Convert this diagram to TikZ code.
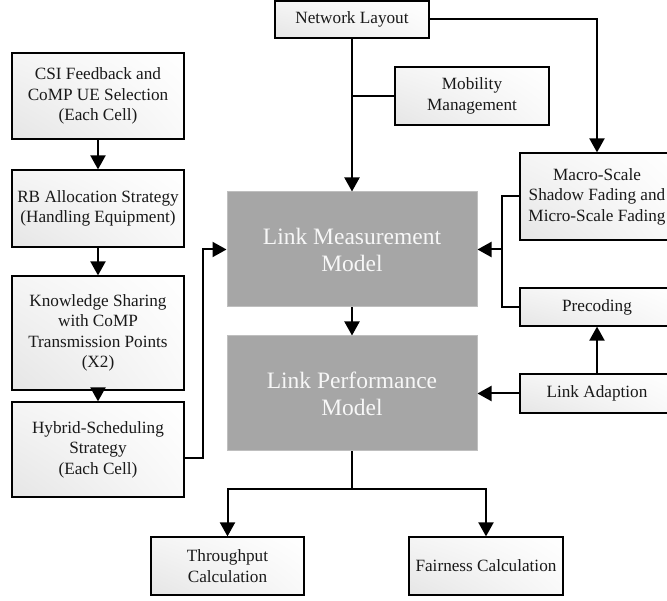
\documentclass[tikz,border=0pt]{standalone}
\usepackage{fontspec}
\setmainfont{Liberation Serif}
\usetikzlibrary{arrows.meta,calc,shadings}
\begin{document}
\begin{tikzpicture}[x=1pt,y=-1pt,
  box/.style={draw=black,line width=1.2pt,rectangle,inner sep=2pt,align=center,
    upper right=white,upper left=gray!8,lower left=gray!20,lower right=gray!5,
    text=black!90,font=\fontsize{17.2}{20.5}\selectfont},
  model/.style={draw=gray!50,line width=1pt,fill=gray!70,rectangle,align=center,
    text=gray!6,font=\fontsize{23.5}{27}\selectfont,
    minimum width=250pt,minimum height=115pt},
  conn/.style={line width=2pt},
  arr/.style={conn,-{Triangle[length=14pt,width=15pt]}}]
\useasboundingbox (0,0) rectangle (667,601);
\clip (0,0) rectangle (667,601);
\fill[white] (0,0) rectangle (667,601);
% nodes
\node[box,minimum width=154pt,minimum height=37pt] (net) at (352,19.5) {Network Layout};
\node[box,minimum width=172pt,minimum height=86pt] (csi) at (98,96) {CSI Feedback and\\CoMP UE Selection\\(Each Cell)};
\node[box,minimum width=172pt,minimum height=77pt] (rb) at (98,208.5) {RB Allocation Strategy\\(Handling Equipment)};
\node[box,minimum width=172pt,minimum height=114pt] (know) at (98,333) {Knowledge Sharing\\with CoMP\\Transmission Points\\(X2)};
\node[box,minimum width=172pt,minimum height=95pt] (hyb) at (98,449.5) {Hybrid-Scheduling\\Strategy\\(Each Cell)};
\node[model] (lm) at (352,249.5) {Link Measurement\\Model};
\node[model] (lp) at (352,393.5) {Link Performance\\Model};
\node[box,minimum width=154pt,minimum height=58pt] (mob) at (472,96) {Mobility\\Management};
\node[box,minimum width=154pt,minimum height=87pt] (macro) at (597,196.5) {Macro-Scale\\Shadow Fading and\\Micro-Scale Fading};
\node[box,minimum width=154pt,minimum height=38pt] (prec) at (597,307) {Precoding};
\node[box,minimum width=154pt,minimum height=39pt] (la) at (597,393.5) {Link Adaption};
\node[box,minimum width=153pt,minimum height=58pt] (thr) at (227.5,566) {Throughput\\Calculation};
\node[box,minimum width=154pt,minimum height=58pt] (fair) at (486,566) {Fairness Calculation};
% helper coordinates
\coordinate (jmob) at (net.south |- mob.west);
\coordinate (jm) at ($(lm.east)+(24,0)$);
\coordinate (split) at ($(lp.south)+(0,38)$);
% connectors
\draw[arr] (net.south) -- (lm.north);
\draw[conn] (mob.west) -- (jmob);
\draw[arr] (net.east) -| (macro.north);
\draw[conn] (macro.west) -| (jm) |- (prec.west);
\draw[arr] (jm) -- (lm.east);
\draw[arr] (la.north) -- (prec.south);
\draw[arr] (la.west) -- (lp.east);
\draw[arr] (csi.south) -- (rb.north);
\draw[arr] (rb.south) -- (know.north);
\draw[arr] (know.south) -- (hyb.north);
\draw[arr] ([yshift=-8.5pt]hyb.east) -| ([xshift=-24pt]lm.west) -- (lm.west);
\draw[arr] (lm.south) -- (lp.north);
\draw[conn] (lp.south) -- (split);
\draw[arr] (split) -| (thr.north);
\draw[arr] (split) -| (fair.north);
\end{tikzpicture}
\end{document}
